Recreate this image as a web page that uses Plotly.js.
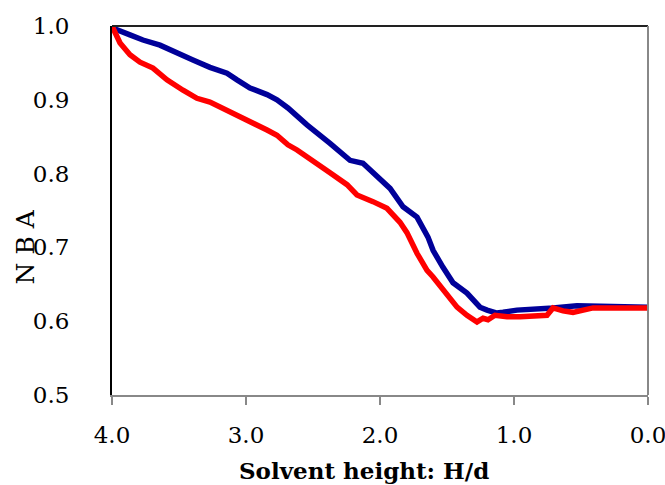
<!DOCTYPE html>
<html>
<head>
<meta charset="utf-8">
<script src="https://cdn.plot.ly/plotly-3.0.1.min.js"></script>
<style>html,body{margin:0;padding:0;background:#fff;}#chart{width:665px;height:485px;}</style>
</head>
<body>
<div id="chart"></div>
<script>
// Blue series (H/d, NBA)
const blueH = [4.0, 3.993, 3.866, 3.769, 3.642, 3.515, 3.396, 3.269, 3.142, 3.067, 2.970, 2.843, 2.769, 2.687, 2.545, 2.373, 2.224, 2.127, 2.052, 1.925, 1.828, 1.724, 1.642, 1.604, 1.530, 1.455, 1.351, 1.254, 1.201, 1.127, 1.082, 0.978, 0.709, 0.530, 0.0];
const blueNBA = [1.0, 0.997, 0.988, 0.981, 0.974, 0.963, 0.954, 0.944, 0.936, 0.927, 0.916, 0.907, 0.900, 0.889, 0.866, 0.841, 0.818, 0.814, 0.802, 0.780, 0.755, 0.741, 0.714, 0.696, 0.673, 0.652, 0.638, 0.619, 0.615, 0.611, 0.612, 0.615, 0.618, 0.621, 0.619];
// Red series (H/d, NBA)
const redH = [4.0, 3.993, 3.940, 3.866, 3.791, 3.694, 3.590, 3.470, 3.366, 3.269, 3.142, 3.022, 2.948, 2.843, 2.769, 2.687, 2.619, 2.500, 2.373, 2.246, 2.172, 2.052, 1.948, 1.851, 1.799, 1.724, 1.649, 1.604, 1.530, 1.425, 1.351, 1.276, 1.231, 1.194, 1.142, 1.052, 0.955, 0.754, 0.709, 0.634, 0.560, 0.410, 0.0];
const redNBA = [1.0, 0.997, 0.977, 0.961, 0.951, 0.943, 0.927, 0.913, 0.902, 0.897, 0.886, 0.875, 0.870, 0.859, 0.852, 0.839, 0.832, 0.816, 0.801, 0.785, 0.771, 0.762, 0.753, 0.734, 0.720, 0.692, 0.669, 0.660, 0.642, 0.619, 0.608, 0.599, 0.604, 0.602, 0.608, 0.606, 0.606, 0.608, 0.618, 0.614, 0.612, 0.618, 0.618];
// Ticks
const xTickVals = [4, 3, 2, 1, 0];
const xTickText = ["4.0", "3.0", "2.0", "1.0", "0.0"];
const yTickVals = [0.5, 0.6, 0.7, 0.8, 0.9, 1.0];
const yTickText = ["0.5", "0.6", "0.7", "0.8", "0.9", "1.0"];
const xTitle = "Solvent height: H/d";
const yTitle = "N B A";

const serif = "DejaVu Serif, Liberation Serif, serif";

const traces = [
  {x: blueH, y: blueNBA, mode: "lines", line: {color: "#000099", width: 5.5}, hoverinfo: "skip"},
  {x: redH, y: redNBA, mode: "lines", line: {color: "#FF0000", width: 5.5}, hoverinfo: "skip"}
];

const layout = {
  width: 665, height: 485,
  margin: {l: 112, r: 17, t: 26, b: 90},
  paper_bgcolor: "#fff", plot_bgcolor: "#fff",
  showlegend: false,
  font: {family: serif, size: 23, color: "#000"},
  xaxis: {
    range: [4, 0], tickvals: xTickVals, ticktext: xTickText,
    showgrid: false, zeroline: false,
    showline: true, linecolor: "#888", linewidth: 2,
    ticks: "outside", ticklen: 8, tickcolor: "#888", tickwidth: 2,
    tickfont: {family: serif, size: 23, color: "#000"},
    ticklabelstandoff: 10, ticklabeloverflow: "allow"
  },
  yaxis: {
    range: [0.5, 1.0], tickvals: yTickVals, ticktext: yTickText,
    showgrid: false, zeroline: false,
    showline: true, linecolor: "#000", linewidth: 2,
    ticks: "", tickfont: {family: serif, size: 23, color: "#000"},
    ticklabelstandoff: 36
  },
  shapes: [
    {type: "line", xref: "paper", yref: "paper", x0: 0, x1: 1, y0: 1, y1: 1, line: {color: "#222", width: 2}},
    {type: "line", xref: "paper", yref: "paper", x0: 1, x1: 1, y0: 0, y1: 1, line: {color: "#888", width: 2}}
  ],
  annotations: [
    {text: "<b>" + xTitle + "</b>", xref: "paper", yref: "paper", x: 0.47, y: 0, yshift: -75,
     showarrow: false, xanchor: "center", yanchor: "middle", font: {family: serif, size: 23, color: "#000"}},
    {text: yTitle, xref: "paper", yref: "paper", x: 0, xshift: -87, y: 0.4, 
     showarrow: false, textangle: -90, xanchor: "center", yanchor: "middle", font: {family: serif, size: 25, color: "#000"}}
  ]
};

Plotly.newPlot("chart", traces, layout, {staticPlot: true, displayModeBar: false});
</script>
</body>
</html>
